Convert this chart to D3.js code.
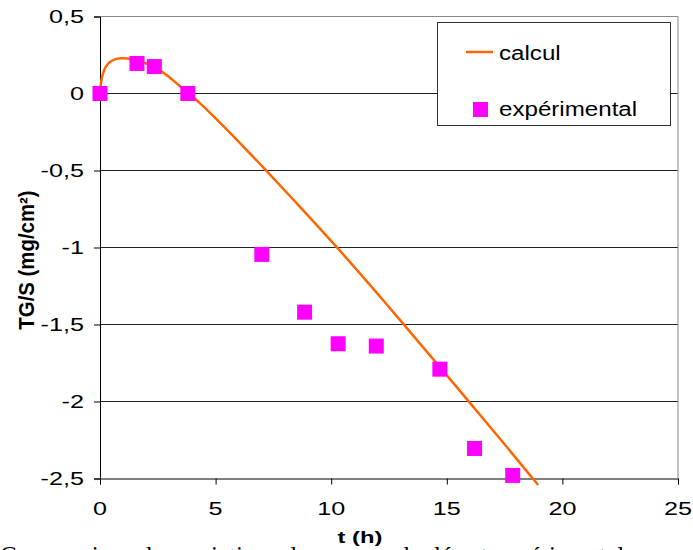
<!DOCTYPE html>
<html><head><meta charset="utf-8">
<script src="https://cdn.jsdelivr.net/npm/d3@7"></script>
<style>body{margin:0;background:#fff;overflow:hidden}svg{display:block}</style>
</head><body>
<script>
// ---- data ----
const expT = [0, 1.6, 2.35, 3.8, 7.0, 8.85, 10.3, 11.95, 14.7, 16.2, 17.85];
const expV = [0, 0.195, 0.175, 0, -1.045, -1.42, -1.625, -1.64, -1.79, -2.305, -2.48];
const calcT = [0, 0.05, 0.13, 0.25, 0.43, 0.65, 0.9, 1.2, 1.6, 2.0, 2.4, 2.7, 3.0, 3.4, 3.85, 4.4, 5.1, 5.9, 7.14, 8.65, 10.24, 11.6, 13.1, 14.5, 15.92, 17.3, 18.67, 18.95];
const calcV = [0, 0.075, 0.13, 0.175, 0.205, 0.222, 0.229, 0.227, 0.215, 0.195, 0.168, 0.14, 0.105, 0.055, 0, -0.074, -0.176, -0.298, -0.493, -0.736, -0.998, -1.23, -1.493, -1.741, -1.994, -2.242, -2.491, -2.542];
const xTicks = [0, 5, 10, 15, 20, 25];
const yTicks = [0.5, 0, -0.5, -1, -1.5, -2, -2.5];
const seriesNames = ["calcul", "expérimental"];
const xTitle = "t (h)";
const yTitle = "TG/S (mg/cm²)";
const caption = "Comparaison des variations de masse calculée et expérimentale";

const W = 693, H = 550;
const svg = d3.select("body").append("svg").attr("width", W).attr("height", H);
const x = d3.scaleLinear().domain([0, 25]).range([100, 678]);
const y = d3.scaleLinear().domain([-2.5, 0.5]).range([478.5, 16.5]);
const fmt = v => String(v).replace(".", ",");
const SX = 1.4;
const font = "Liberation Sans, Arial, sans-serif";

// caption (cut off at bottom)
svg.append("text").attr("x", 0).attr("y", 564).attr("font-family", "Liberation Serif, Times New Roman, serif")
  .attr("font-size", 25).text(caption);

// gridlines
svg.append("g").selectAll("line").data(yTicks.filter(v => v > -2.5 && v < 0.5)).join("line")
  .attr("x1", x(0)).attr("x2", x(25)).attr("y1", d => y(d)).attr("y2", d => y(d))
  .attr("stroke", "#222").attr("stroke-width", 1);
// plot border top/right
svg.append("path").attr("d", `M${x(0)},${y(0.5)}H${x(25)}V${y(-2.5)}`)
  .attr("fill", "none").attr("stroke", "#888").attr("stroke-width", 1);

// axes
const yAxis = svg.append("g").attr("transform", `translate(${x(0)},0)`)
  .call(d3.axisLeft(y).tickValues(yTicks).tickSize(6).tickFormat(""));
yAxis.select(".domain").attr("stroke", "#000");
const xAxis = svg.append("g").attr("transform", `translate(0,${y(-2.5)})`)
  .call(d3.axisBottom(x).tickValues(xTicks).tickSize(6).tickFormat(""));
xAxis.select(".domain").attr("stroke", "#000");

// tick labels (horizontally stretched like reference)
svg.append("g").selectAll("text").data(yTicks).join("text")
  .attr("transform", d => `translate(84,${y(d) + 6.5}) scale(${SX},1)`)
  .attr("text-anchor", "end").attr("font-family", font).attr("font-size", 18)
  .text(fmt);
svg.append("g").selectAll("text").data(xTicks).join("text")
  .attr("transform", d => `translate(${x(d)},515) scale(${SX},1)`)
  .attr("text-anchor", "middle").attr("font-family", font).attr("font-size", 18)
  .text(fmt);

// axis titles
svg.append("text").attr("transform", `translate(360,543) scale(${SX},1)`)
  .attr("text-anchor", "middle").attr("font-family", font).attr("font-size", 17)
  .attr("font-weight", "bold").text(xTitle);
svg.append("text").attr("transform", `translate(34,260) rotate(-90) scale(1.2,1.25)`)
  .attr("text-anchor", "middle").attr("font-family", font).attr("font-size", 17)
  .attr("font-weight", "bold").text(yTitle);

// curve
const line = d3.line().x((d, i) => x(calcT[i])).y((d, i) => y(calcV[i])).curve(d3.curveCatmullRom.alpha(0.5));
svg.append("path").datum(calcV).attr("d", line)
  .attr("fill", "none").attr("stroke", "#ff6600").attr("stroke-width", 2.5);

// experimental squares
const S = 15;
svg.append("g").selectAll("rect").data(expV).join("rect")
  .attr("x", (d, i) => x(expT[i]) - S / 2).attr("y", d => y(d) - S / 2)
  .attr("width", S).attr("height", S).attr("fill", "#ff00ff");

// legend
const lg = svg.append("g");
lg.append("rect").attr("x", 437.5).attr("y", 22.5).attr("width", 233).attr("height", 103)
  .attr("fill", "#fff").attr("stroke", "#333");
lg.append("line").attr("x1", 466).attr("x2", 493).attr("y1", 52).attr("y2", 52)
  .attr("stroke", "#ff6600").attr("stroke-width", 2.5);
lg.append("rect").attr("x", 473).attr("y", 102).attr("width", S).attr("height", S).attr("fill", "#ff00ff");
lg.selectAll("text.lab").data(seriesNames).join("text").attr("class", "lab")
  .attr("transform", (d, i) => `translate(499,${i ? 116 : 60}) scale(1.15,1)`)
  .attr("font-family", font).attr("font-size", 21).text(d => d);
</script>
</body></html>
